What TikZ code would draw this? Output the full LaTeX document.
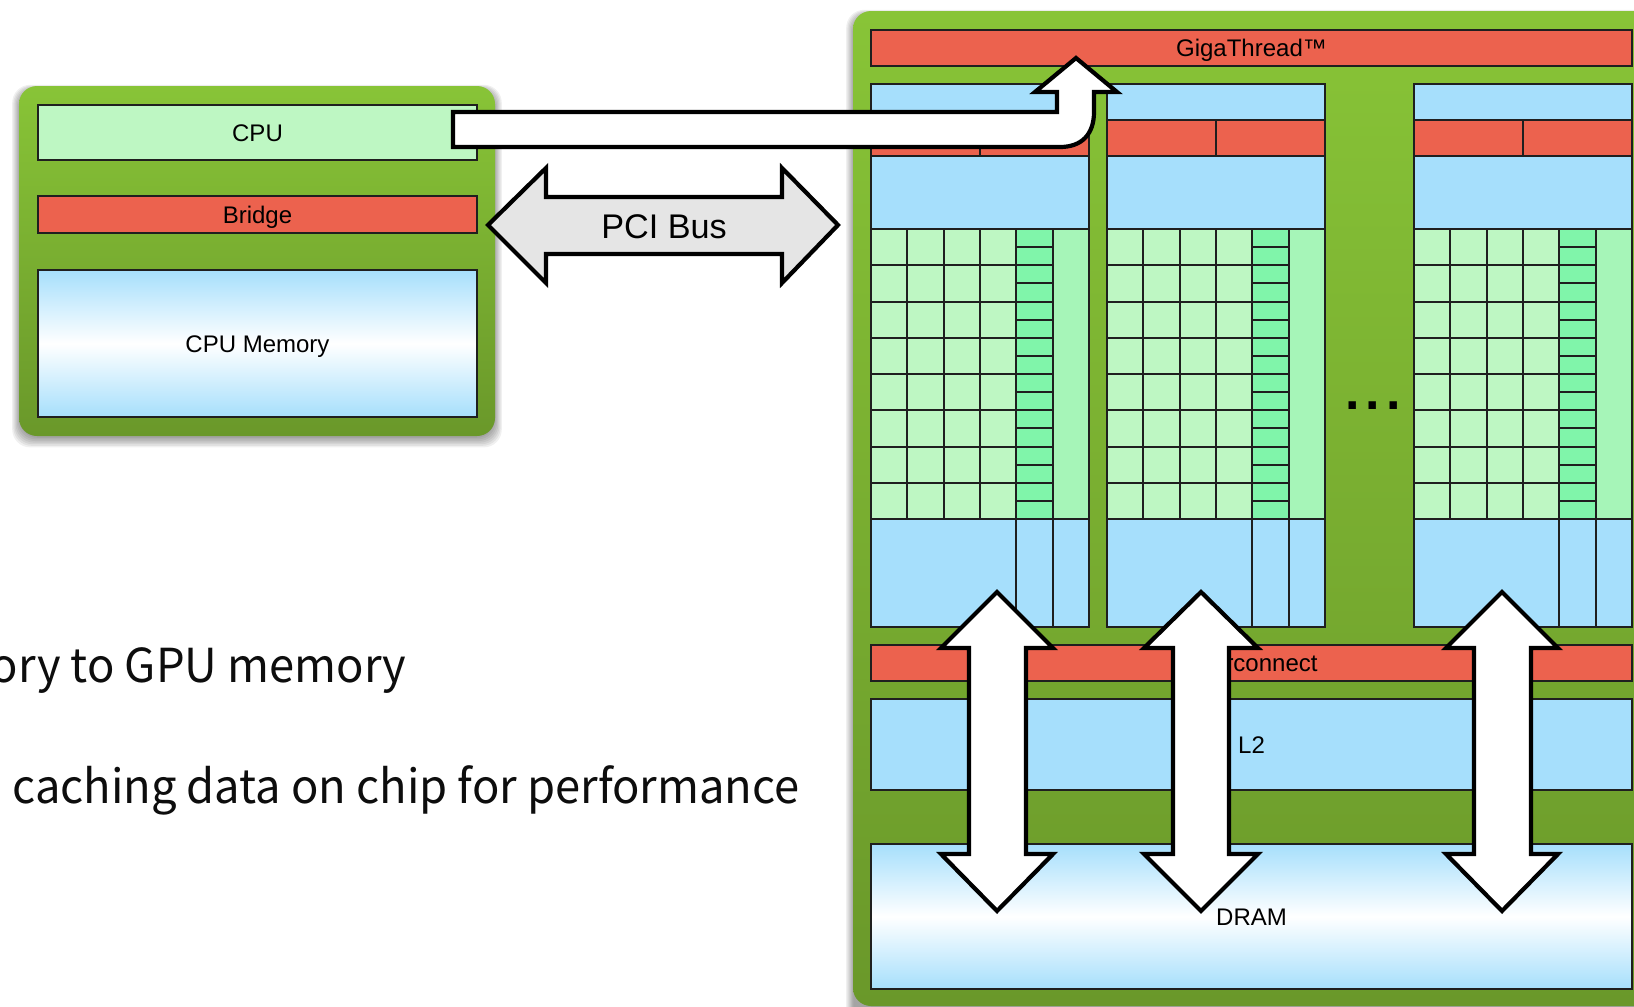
\documentclass[tikz,border=0pt]{standalone}
\usepackage{fontspec}
\setmainfont{Liberation Sans}
\newfontfamily\slidefont[FakeStretch=0.968]{Noto Sans CJK SC}
\newfontfamily\busfont{Liberation Sans}
\newfontfamily\dotfont[LetterSpace=12]{Liberation Sans Bold}
\definecolor{cred}{HTML}{EC624E}
\definecolor{cblue}{HTML}{A6DFFC}
\definecolor{cgrid}{HTML}{BEF7C3}
\definecolor{cmid}{HTML}{80F5AA}
\definecolor{cside}{HTML}{A6F5B8}
\definecolor{ctop}{HTML}{88C437}
\definecolor{cbot}{HTML}{6A982A}
\tikzset{
  boxbase/.style={draw=black!88, line width=1pt, line join=miter},
  redbox/.style={boxbase, fill=cred},
  bluebox/.style={boxbase, fill=cblue},
  gridbox/.style={boxbase, fill=cgrid},
  midbox/.style={boxbase, fill=cmid},
  sidebox/.style={boxbase, fill=cside},
  membox/.style={boxbase, top color=cblue, bottom color=cblue, middle color=white},
  card/.style={top color=ctop, bottom color=cbot, rounded corners=9pt},
  block/.style={draw=black, line width=2.1pt, fill=white, miter limit=10},
  lbl/.style={font=\fontsize{12}{14}\selectfont, text=black, inner sep=0pt, text height=8.5pt, text depth=0pt},
  slide/.style={font=\slidefont\fontsize{23.4}{28}\selectfont, text=black!95, inner sep=0pt, anchor=base west},
}
\newcommand{\cardshadow}[4]{%
  \foreach \s in {1,...,7}{
    \fill[black, opacity=0.06, rounded corners=9pt]
      ({#1-8+\s*1.2},{#2-2+\s*0.8}) rectangle ({#3+8-\s*1.2},{#4+13-\s*1.6});
  }
}
\newcommand{\gpucolumn}[1]{%
  \begin{scope}[shift={(#1,0)}]
    \draw[bluebox] (0,84) rectangle (218,120);
    \draw[redbox] (0,120) rectangle (109,156);
    \draw[redbox] (109,120) rectangle (218,156);
    \draw[bluebox] (0,156) rectangle (218,229);
    \foreach \r in {0,...,7}{
      \foreach \c in {0,...,3}{
        \draw[gridbox] ({\c*36.25},{229+\r*36.25}) rectangle ({(\c+1)*36.25},{229+(\r+1)*36.25});
      }
    }
    \foreach \r in {0,...,15}{
      \draw[midbox] (145,{229+\r*18.125}) rectangle (181.5,{229+(\r+1)*18.125});
    }
    \draw[sidebox] (181.5,229) rectangle (218,519);
    \draw[bluebox] (0,519) rectangle (145,627);
    \draw[bluebox] (145,519) rectangle (181.5,627);
    \draw[bluebox] (181.5,519) rectangle (218,627);
  \end{scope}%
}
\newcommand{\memarrow}[5]{%
  \draw[block] (#1,592) -- (#2,648) -- (#3,648) -- (#3,854) -- (#2,854) -- (#1,911)
    -- ({2*#1-#2},854) -- (#4,854) -- (#4,648) -- ({2*#1-#2},648) -- cycle;
}
\begin{document}
\begin{tikzpicture}[x=0.5pt,y=-0.5pt]
\useasboundingbox (0,0) rectangle (1634,1007);
\fill[white] (0,0) rectangle (1634,1007);

% host card
\cardshadow{19}{86}{495}{436}
\shade[card] (19,86) rectangle (495,436);
\draw[gridbox] (38,105) rectangle node[lbl] (cpu) {CPU} (477,160);
\draw[redbox] (38,196) rectangle node[lbl] (bridge) {Bridge} (477,233);
\draw[membox] (38,270) rectangle node[lbl] (cpumem) {CPU Memory} (477,417);

% GPU card
\cardshadow{853}{11}{1700}{1030}
\shade[card] (853,11) rectangle (1700,1006);
\draw[redbox] (871,30) rectangle node[lbl] (giga) {GigaThread™} (1632,66);
\gpucolumn{871}
\gpucolumn{1107}
\gpucolumn{1414}
\draw[redbox] (871,645) rectangle node[lbl] (inter) {Interconnect} (1632,681);
\draw[bluebox] (871,699) rectangle node[lbl] (ltwo) {L2} (1632,790);
\draw[membox] (871,844) rectangle node[lbl] (dram) {DRAM} (1632,989);
\node[font=\dotfont\fontsize{26}{30}\selectfont, inner sep=0pt, anchor=base] (dots) at (1373,409) {...};

% slide text
\node[slide, anchor=base east] (line1) at (407,682) {ory to GPU memory};
\node[slide] (line2) at (12,803) {caching data on chip for performance};

% PCI bus arrow
\draw[block, fill=black!10] (488,225) -- (546,168) -- (546,197) -- (782,197) -- (782,168)
  -- (838,225) -- (782,283) -- (782,254) -- (546,254) -- (546,283) -- cycle;
\node[font=\busfont\fontsize{17.1}{20}\selectfont, inner sep=0pt, text height=12.2pt, text depth=0pt] (pci) at (664,226) {PCI Bus};

% host to GigaThread arrow
\draw[block] (453,112) -- (1057,112) -- (1057,92) -- (1035,92) -- (1076,58) -- (1117,92)
  -- (1094,92) -- (1094,112) .. controls (1094,134) and (1082,147) .. (1060,147) -- (453,147) -- cycle;

% memory arrows
\memarrow{997}{941}{969}{1026}{a}
\memarrow{1201}{1144}{1173}{1229}{b}
\memarrow{1502}{1446}{1474}{1531}{c}
\end{tikzpicture}
\end{document}
